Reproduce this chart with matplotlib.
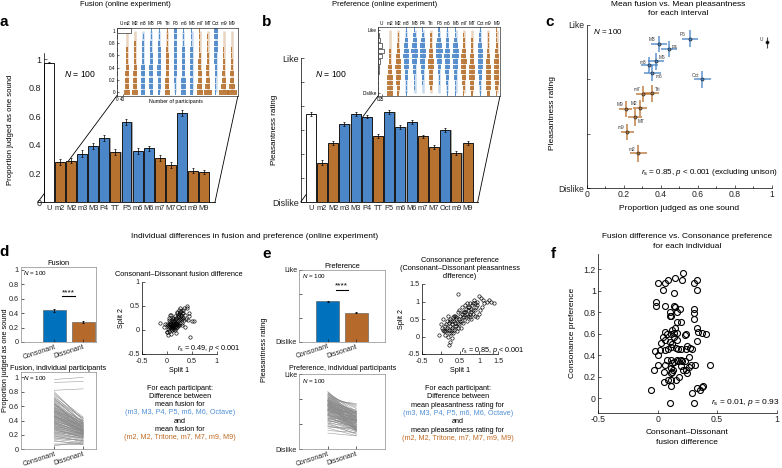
import numpy as np
import matplotlib
matplotlib.use('Agg')
import matplotlib.pyplot as plt
from matplotlib.patches import ConnectionPatch
from matplotlib.ticker import FormatStrFormatter
from matplotlib.transforms import blended_transform_factory

plt.rcParams['font.family'] = ['Liberation Sans', 'DejaVu Sans']
plt.rcParams['mathtext.fontset'] = 'custom'
plt.rcParams['mathtext.rm'] = 'Liberation Sans'
plt.rcParams['mathtext.it'] = 'Liberation Sans:italic'
plt.rcParams['axes.linewidth'] = 0.5

# ---- data -------------------------------------------------------------
intervals = ['U', 'm2', 'M2', 'm3', 'M3', 'P4', 'TT', 'P5', 'm6', 'M6', 'm7', 'M7', 'Oct', 'm9', 'M9']
short_names = ['U', 'm2', 'M2', 'm3', 'M3', 'P4', 'Tri', 'P5', 'm6', 'M6', 'm7', 'M7', 'Oct', 'm9', 'M9']
kind = ['U', 'D', 'D', 'C', 'C', 'C', 'D', 'C', 'C', 'C', 'D', 'D', 'C', 'D', 'D']

fusion_mean = [0.975, 0.279, 0.288, 0.339, 0.391, 0.445, 0.351, 0.559, 0.355, 0.375, 0.306, 0.261, 0.625, 0.220, 0.211]
fusion_sem = [0.005, 0.022, 0.018, 0.022, 0.020, 0.021, 0.020, 0.022, 0.022, 0.020, 0.020, 0.020, 0.021, 0.015, 0.015]
fusion_ci = [0.01, 0.045, 0.040, 0.045, 0.045, 0.045, 0.042, 0.045, 0.045, 0.042, 0.042, 0.040, 0.045, 0.035, 0.035]

# pleasantness on a 1 (Dislike) .. 4 (Like) scale
pleas_mean = [2.84, 1.82, 2.235, 2.63, 2.825, 2.78, 2.37, 2.875, 2.56, 2.665, 2.365, 2.15, 2.50, 2.015, 2.23]
pleas_sem = [0.04, 0.05, 0.04, 0.04, 0.04, 0.04, 0.04, 0.04, 0.04, 0.04, 0.04, 0.04, 0.05, 0.04, 0.04]
pleas_ci = [0.08, 0.08, 0.075, 0.075, 0.075, 0.075, 0.075, 0.075, 0.075, 0.075, 0.075, 0.075, 0.08, 0.075, 0.075]

# inset histograms (participants per response level)
fus_levels = [0.0, 0.1, 0.2, 0.3, 0.4, 0.5, 0.6, 0.7, 0.8, 0.9, 1.0]
fus_u_counts = [0, 0, 0, 0, 1, 1, 1, 0, 1, 3, 93]
fus_counts = [
    [22, 16, 14, 12, 10, 8, 7, 5, 3, 2, 1],
    [21, 16, 14, 12, 10, 8, 7, 5, 4, 2, 1],
    [15, 14, 14, 13, 11, 9, 8, 6, 5, 3, 2],
    [11, 12, 13, 13, 12, 10, 9, 7, 6, 4, 3],
    [8, 10, 11, 12, 12, 11, 10, 9, 8, 5, 4],
    [15, 14, 14, 12, 11, 9, 8, 7, 5, 3, 2],
    [4, 6, 7, 8, 10, 11, 11, 12, 12, 10, 9],
    [14, 14, 14, 12, 11, 10, 8, 7, 5, 3, 2],
    [12, 13, 13, 13, 12, 10, 9, 7, 5, 4, 2],
    [20, 16, 14, 13, 10, 8, 7, 5, 4, 2, 1],
    [26, 17, 14, 12, 9, 7, 6, 4, 2, 2, 1],
    [3, 4, 5, 6, 8, 10, 11, 12, 13, 13, 15],
    [32, 18, 14, 11, 8, 6, 4, 3, 2, 1, 1],
    [33, 18, 14, 11, 8, 5, 4, 3, 2, 1, 1],
]
pl_levels = [1.0, 1.25, 1.5, 1.75, 2.0, 2.25, 2.5, 2.75, 3.0, 3.25, 3.5, 3.75, 4.0]
pl_u_counts = [0, 0, 1, 2, 3, 6, 10, 20, 28, 18, 8, 3, 1]
pl_counts = [
    [14, 16, 15, 14, 12, 9, 7, 5, 3, 2, 2, 1, 0],
    [4, 7, 10, 12, 13, 14, 12, 10, 7, 5, 3, 2, 1],
    [1, 2, 4, 6, 9, 12, 14, 15, 14, 10, 7, 4, 2],
    [0, 1, 2, 4, 6, 9, 12, 15, 17, 14, 10, 6, 4],
    [0, 1, 2, 5, 7, 10, 13, 16, 16, 13, 9, 5, 3],
    [2, 5, 8, 10, 12, 14, 14, 12, 9, 6, 4, 3, 1],
    [0, 1, 2, 3, 5, 8, 12, 15, 17, 16, 11, 6, 4],
    [1, 3, 5, 7, 10, 12, 14, 15, 13, 9, 6, 3, 2],
    [1, 2, 4, 6, 8, 11, 14, 16, 15, 11, 7, 3, 2],
    [3, 5, 8, 10, 12, 13, 14, 12, 9, 6, 4, 3, 1],
    [5, 8, 11, 13, 14, 13, 11, 9, 7, 4, 3, 1, 1],
    [2, 3, 6, 8, 10, 12, 13, 13, 12, 9, 6, 4, 2],
    [8, 11, 13, 14, 14, 12, 10, 7, 5, 3, 2, 1, 0],
    [4, 7, 10, 12, 14, 13, 12, 10, 7, 5, 3, 2, 1],
]

groups = ['Consonant', 'Dissonant']
group_fusion = [0.44, 0.275]
group_fusion_err = [0.022, 0.016]
group_pleas = [2.69, 2.22]
group_pleas_err = [0.03, 0.03]

# per participant: (fusion difference, consonance preference)
indiv = [
    (-0.054, 0.077), (0.103, -0.046), (0.309, -0.046), (0.289, 0.046), (0.331, 0.093), (0.36, 0.077), (0.38, 0.118), (0.109, 0.115), (0.086, 0.17), (0.114, 0.17),
    (0.151, 0.17), (0.051, 0.149), (-0.029, 0.263), (0.0, 0.31), (0.051, 0.241), (0.109, 0.279), (0.123, 0.248), (0.18, 0.20), (0.217, 0.263), (0.251, 0.232),
    (0.24, 0.263), (0.28, 0.31), (0.26, 0.294), (0.314, 0.31), (0.437, 0.31), (0.08, 0.356), (0.109, 0.356), (0.137, 0.34), (0.171, 0.35), (0.194, 0.356),
    (0.209, 0.347), (0.16, 0.356), (0.123, 0.325), (0.266, 0.381), (0.0, 0.402), (0.023, 0.449), (0.06, 0.449), (0.089, 0.455), (0.109, 0.48), (0.151, 0.464),
    (0.171, 0.455), (0.2, 0.455), (0.237, 0.455), (0.289, 0.455), (0.251, 0.489), (0.271, 0.47), (0.031, 0.511), (0.06, 0.542), (0.103, 0.526), (0.123, 0.505),
    (0.166, 0.542), (0.137, 0.567), (0.046, 0.573), (0.08, 0.598), (0.109, 0.598), (0.066, 0.619), (0.137, 0.604), (0.16, 0.604), (0.237, 0.598), (0.337, 0.619),
    (0.371, 0.604), (0.403, 0.598), (0.33, 0.65), (0.143, 0.656), (0.123, 0.635), (0.16, 0.712), (0.194, 0.712), (0.309, 0.734), (0.103, 0.765), (0.114, 0.765),
    (0.103, 0.805), (0.064, 0.861), (0.137, 0.861), (0.146, 0.845), (0.186, 0.83), (0.166, 0.805), (0.306, 0.827), (0.309, 0.796), (-0.011, 0.898), (-0.011, 0.861),
    (0.0, 1.07), (0.064, 1.07), (0.084, 1.094), (0.145, 1.116), (0.215, 1.163), (0.207, 1.094), (0.302, 1.07), (0.333, 1.094), (0.042, 1.001), (0.137, 0.977),
    (0.328, 1.001), (0.333, 0.533), (0.23, 0.59), (0.37, 0.1), (0.13, 0.26), (0.11, 0.23), (0.2, 0.3), (0.23, 0.35), (-0.02, 0.44), (0.06, 0.31),
]
# mean fusion for consonant intervals, per participant (same order)
fus_cons = [
    0.05, 0.35, 0.62, 0.48, 0.55, 0.71, 0.66, 0.28, 0.19, 0.42,
    0.38, 0.12, 0.97, 0.22, 0.31, 0.45, 0.52, 0.58, 0.44, 0.63,
    0.47, 0.51, 0.69, 0.76, 0.65, 0.25, 0.33, 0.40, 0.54, 0.46,
    0.57, 0.36, 0.29, 0.61, 0.08, 0.15, 0.21, 0.27, 0.39, 0.50,
    0.43, 0.55, 0.59, 0.72, 0.49, 0.53, 0.11, 0.18, 0.30, 0.37,
    0.41, 0.34, 0.14, 0.23, 0.31, 0.26, 0.45, 0.48, 0.56, 0.67,
    0.74, 0.80, 0.60, 0.35, 0.32, 0.44, 0.51, 0.64, 0.29, 0.36,
    0.27, 0.20, 0.39, 0.42, 0.47, 0.38, 0.58, 0.62, 0.93, 0.06,
    0.17, 0.24, 0.30, 0.46, 0.53, 0.50, 0.68, 0.70, 0.16, 0.37,
    0.57, 0.63, 0.52, 0.78, 0.40, 0.33, 0.45, 0.54, 0.82, 0.22,
]
# mean pleasantness for consonant intervals, per participant (same order)
pl_cons = [
    1.75, 2.10, 2.45, 1.90, 2.60, 2.25, 2.95, 1.65, 2.35, 2.05,
    2.50, 2.20, 2.70, 1.95, 2.40, 2.85, 2.15, 2.60, 3.05, 2.30,
    2.55, 2.80, 2.00, 2.65, 2.45, 2.90, 2.25, 2.75, 2.10, 2.60,
    2.35, 3.10, 2.50, 2.70, 2.85, 2.20, 2.95, 2.65, 2.40, 3.15,
    2.55, 2.75, 2.05, 2.90, 2.60, 2.30, 2.80, 3.00, 2.45, 2.70,
    2.85, 2.50, 3.20, 2.65, 2.95, 2.35, 2.75, 3.05, 2.55, 2.90,
    2.60, 3.00, 2.80, 2.45, 3.10, 2.70, 2.95, 3.25, 2.55, 2.85,
    2.90, 3.05, 2.75, 3.20, 2.60, 2.95, 3.10, 2.80, 3.30, 2.70,
    2.95, 3.15, 2.80, 3.25, 3.05, 2.90, 3.30, 2.85, 3.00, 2.75,
    3.20, 2.65, 2.40, 1.90, 2.15, 2.35, 2.55, 2.25, 2.80, 1.85,
]

# split-half reliability (split 1, split 2)
fus_split = [
    (0.05, 0.08), (0.10, 0.05), (0.12, 0.15), (0.20, 0.20), (0.15, 0.10), (0.08, 0.02), (0.00, -0.05), (0.02, 0.10), (0.18, 0.25), (0.22, 0.30),
    (0.25, 0.20), (0.30, 0.35), (0.28, 0.40), (0.10, 0.00), (0.06, 0.12), (0.14, 0.18), (0.16, 0.05), (0.20, 0.12), (0.24, 0.28), (0.27, 0.38),
    (0.33, 0.42), (0.37, 0.30), (0.41, 0.45), (0.45, 0.35), (0.50, 0.18), (0.43, 0.20), (0.55, 0.18), (-0.13, 0.14), (-0.03, 0.12), (0.07, 0.30),
    (0.27, 0.46), (0.47, -0.14), (0.12, 0.22), (0.04, -0.02), (0.09, 0.08), (0.19, 0.15), (0.23, 0.10), (0.13, 0.25), (0.11, 0.00), (0.17, 0.22),
    (0.21, 0.05), (0.29, 0.25), (0.31, 0.15), (0.35, 0.45), (0.02, 0.02), (0.06, 0.18), (0.08, -0.08), (0.10, 0.08), (0.14, 0.10), (0.16, 0.28),
    (0.18, 0.15), (0.20, 0.35), (0.26, 0.22), (0.30, 0.10), (0.12, 0.05), (0.05, 0.20), (0.00, 0.12), (-0.05, 0.07), (0.03, -0.10), (0.07, 0.15),
    (0.11, 0.04), (0.15, 0.02), (0.19, 0.12), (0.23, 0.18), (0.25, 0.32), (0.32, 0.35), (0.38, 0.22), (0.40, 0.50), (0.22, 0.08), (0.28, 0.28),
    (0.09, 0.30), (0.13, 0.18), (0.17, 0.00), (0.21, 0.12), (0.01, -0.05), (0.04, 0.25), (0.36, 0.05), (0.44, 0.28), (0.34, 0.20), (0.24, 0.42),
    (0.14, 0.06), (0.06, 0.10), (0.10, 0.20), (0.16, 0.14), (0.20, 0.38), (0.26, 0.15), (0.08, 0.12), (0.12, 0.08), (0.18, -0.06), (0.30, 0.22),
    (0.22, 0.26), (0.02, 0.06), (0.15, 0.12), (0.11, 0.10), (0.07, 0.06), (0.25, 0.10), (0.33, 0.24), (0.29, 0.30), (0.19, 0.04), (0.05, 0.12),
]
pl_split = [
    (0.00, 0.35), (0.05, 0.20), (0.10, 0.15), (0.15, 0.25), (0.20, 0.40), (0.25, 0.30), (0.30, 0.45), (0.35, 0.20), (0.40, 0.55), (0.45, 0.40),
    (0.50, 0.60), (0.55, 0.45), (0.60, 0.70), (0.65, 0.55), (0.70, 0.85), (0.75, 0.65), (0.80, 0.80), (0.85, 0.95), (0.90, 0.75), (0.95, 1.00),
    (1.00, 1.15), (1.05, 1.10), (1.10, 1.05), (1.20, 1.00), (1.30, 1.00), (1.40, 0.95), (1.60, 1.30), (0.45, 1.22), (0.25, -0.15), (0.20, -0.25),
    (0.30, -0.05), (0.10, 0.30), (0.15, 0.45), (0.20, 0.10), (0.25, 0.50), (0.30, 0.25), (0.35, 0.60), (0.40, 0.30), (0.45, 0.70), (0.50, 0.45),
    (0.55, 0.85), (0.60, 0.55), (0.65, 0.80), (0.70, 0.60), (0.75, 0.95), (0.80, 0.70), (0.85, 0.75), (0.90, 0.95), (0.95, 0.55), (1.00, 0.65),
    (0.05, 0.50), (0.12, 0.05), (0.18, 0.60), (0.22, 0.20), (0.28, 0.35), (0.32, 0.10), (0.38, 0.40), (0.42, 0.15), (0.48, 0.50), (0.52, 0.25),
    (0.58, 0.40), (0.62, 0.90), (0.68, 0.45), (0.72, 0.75), (0.78, 0.50), (0.82, 0.90), (0.88, 0.60), (0.92, 0.85), (1.02, 0.75), (1.12, 0.95),
    (0.08, 0.15), (0.14, 0.35), (0.26, 0.10), (0.34, 0.45), (0.44, 0.25), (0.54, 0.65), (0.64, 0.70), (0.74, 0.85), (0.84, 0.65), (0.94, 0.90),
    (-0.05, 0.05), (0.03, 0.25), (0.17, 0.20), (0.23, 0.45), (0.33, 0.55), (0.37, 0.30), (0.47, 0.35), (0.57, 0.55), (0.67, 0.95), (0.77, 0.55),
    (0.18, 0.00), (0.28, 0.20), (0.38, 0.60), (0.48, 0.75), (0.58, 0.70), (0.68, 0.65), (0.86, 1.05), (1.08, 0.85), (1.25, 1.05), (0.40, 0.50),
]

# ---- style ------------------------------------------------------------
BLUE, BROWN = '#4a86c8', '#b8722f'
BLUE_D, BROWN_D = '#0072bd', '#b56a2c'
TXT_BLUE, TXT_BROWN = '#4f8fd6', '#c06a22'
col_of = {'U': 'white', 'C': BLUE, 'D': BROWN}

W, H = 782, 468
fig = plt.figure(figsize=(W / 100, H / 100), dpi=100)


def box(l, t, r, b):
    return [l / W, 1 - b / H, (r - l) / W, (b - t) / H]


def ftext(x, y, s, **kw):
    kw.setdefault('ha', 'center')
    kw.setdefault('va', 'center')
    kw.setdefault('fontsize', 5.5)
    fig.text(x / W, 1 - y / H, s, **kw)


def style(ax, spines=('left', 'bottom'), size=6.5, spine_col='k'):
    for s in ax.spines:
        ax.spines[s].set_visible(s in spines)
        ax.spines[s].set_linewidth(0.5)
        ax.spines[s].set_color(spine_col)
    ax.tick_params(direction='in', length=2, width=0.5, labelsize=size, pad=1.5, colors='#222222')


def main_bars(ax, vals, errs):
    x = np.arange(1, len(vals) + 1)
    cols = [col_of[k] for k in kind]
    base = ax.get_ylim()[0]
    h = np.array(vals) - base
    ax.bar(x + 0.12, h, bottom=base, width=0.9, color='#a8a8a8', zorder=1)
    ax.bar(x, h, bottom=base, width=0.9, color=cols, edgecolor='#1a1a1a', lw=0.7, zorder=2)
    ax.errorbar(x, vals, yerr=errs, fmt='none', ecolor='k', elinewidth=0.5, capsize=1, capthick=0.5, zorder=3)
    ax.set_xticks(x)
    ax.set_xticklabels(intervals)
    return x


def inset_hist(ax, levels, counts_list, u_counts, bar_h, scale, u_scale, first, step, u_pos):
    levels = np.asarray(levels)
    centers = first + step * np.arange(len(counts_list))
    for cx, cnt, k in zip(centers, counts_list, kind[1:]):
        cnt = np.asarray(cnt, float)
        col = col_of[k]
        ax.vlines(cx, levels[0], levels[-1], color=col, lw=1.8, alpha=0.3, zorder=0)
        ax.barh(levels, cnt * scale, left=cx - cnt * scale / 2, height=bar_h, color=col,
                alpha=0.9, lw=0, zorder=1)
    ax.barh(levels, np.asarray(u_counts) * u_scale, left=0, height=bar_h, facecolor='white',
            edgecolor='k', lw=0.4, zorder=2)
    tr = blended_transform_factory(ax.transData, ax.transAxes)
    for cx, lab in zip(np.r_[u_pos, centers], short_names):
        ax.text(cx, 1.02, lab, transform=tr, ha='center', va='bottom', fontsize=3.4)
    for s in ax.spines.values():
        s.set_linewidth(0.5)
        s.set_color('#333333')
    ax.tick_params(direction='in', length=1.5, width=0.4, labelsize=3.4, pad=1)


def connect(main, ins, x0, x1, y0):
    for xa, xb in ((0, x0), (1, x1)):
        con = ConnectionPatch(xyA=(xa, 0), coordsA=ins.transAxes, xyB=(xb, y0), coordsB=main.transData,
                              color='k', lw=0.6, zorder=0.5)
        main.add_artist(con)
        con.set_clip_on(False)
    main.plot([x0, x1], [y0, y0], color='k', lw=0.6, clip_on=False, zorder=0.5)


# ---- panel a ------------------------------------------------------------
ax_a = fig.add_axes(box(43.5, 53.3, 215, 202))
ax_a.set_ylim(0, 1.04)
xa = main_bars(ax_a, fusion_mean, fusion_sem)
ax_a.set_xlim(0.5, 16)
ax_a.set_yticks(np.arange(0, 1.01, 0.2))
ax_a.yaxis.set_major_formatter(FormatStrFormatter('%g'))
style(ax_a, spines=('left',))
ax_a.tick_params(axis='x', length=0, labelsize=5.3, pad=2.5)

ins_a = fig.add_axes(box(117, 27.7, 238, 95.5))
inset_hist(ins_a, fus_levels, fus_counts, fus_u_counts, 0.08, 2.0, 1.0, 67, 54, 27)
ins_a.set_xlim(0, 810)
ins_a.set_ylim(-0.05, 1.05)
ins_a.set_yticks(np.arange(0, 1.01, 0.2))
ins_a.yaxis.set_major_formatter(FormatStrFormatter('%g'))
ins_a.set_xticks([0, 40])
connect(ax_a, ins_a, 0, 16, 0)

ftext(125, 5, 'Fusion (online experiment)')
ftext(4, 22, 'a', fontsize=11, fontweight='bold')
ftext(64, 74, r'$N$ = 100', fontsize=6.2, ha='left')
ftext(11, 130, 'Proportion judged as one sound', rotation=90, fontsize=5.6)
ftext(176, 101, 'Number of participants', fontsize=3.8)

# ---- panel b ------------------------------------------------------------
ax_b = fig.add_axes(box(300.7, 58, 477.7, 202))
ax_b.set_ylim(1, 4)
main_bars(ax_b, pleas_mean, pleas_sem)
ax_b.set_xlim(0.1, 15.9)
ax_b.set_yticks(np.arange(1, 4.01, 0.5))
ax_b.set_yticklabels(['Dislike', '', '', '', '', '', 'Like'])
style(ax_b, spines=('left',))
ax_b.tick_params(axis='x', length=0, labelsize=5.3, pad=2.5)

ins_b = fig.add_axes(box(378, 27, 500, 96))
inset_hist(ins_b, pl_levels, pl_counts, pl_u_counts, 0.2, 2.8, 1.5, 84, 57.4, 26)
ins_b.set_xlim(0, 854)
ins_b.set_ylim(0.88, 4.12)
ins_b.set_yticks([1, 4])
ins_b.set_yticklabels(['Dislike', 'Like'])
ins_b.set_xticks([0, 25])
connect(ax_b, ins_b, 0.1, 15.9, 1)

ftext(385, 5, 'Preference (online experiment)')
ftext(267, 22, 'b', fontsize=11, fontweight='bold')
ftext(315, 74, r'$N$ = 100', fontsize=6.2, ha='left')
ftext(275, 130, 'Pleasantness rating', rotation=90, fontsize=5.8)

# ---- panel c ------------------------------------------------------------
ax_c = fig.add_axes(box(586.7, 25, 771.7, 188))
label_off = {'U': (-3, 2, 'right'), 'P5': (-3, 3, 'right'), 'M3': (-3, 3, 'right'), 'P4': (2, 1, 'left'),
             'M6': (2, 3, 'left'), 'm3': (-2, 2, 'right'), 'm6': (2, -3, 'left'), 'Oct': (-2, 3, 'right'),
             'm7': (-2, 3, 'right'), 'Tri': (2, 3, 'left'), 'M9': (-2, 3, 'right'), 'M2': (-2, 3, 'right'),
             'M7': (2, -3, 'left'), 'm9': (-2, 3, 'right'), 'm2': (-2, 3, 'right')}
for fx, py, ex, ey, k, lab in zip(fusion_mean, pleas_mean, fusion_ci, pleas_ci, kind, short_names):
    col = {'U': 'k', 'C': BLUE, 'D': BROWN}[k]
    if k == 'U':
        ex, ey = 0.005, 0.05
    ax_c.errorbar(fx, py, xerr=ex, yerr=ey, fmt='none', ecolor=col, elinewidth=1.4 if k != 'U' else 0.8,
                  alpha=0.7, zorder=2)
    ax_c.plot(fx, py, 'o', ms=2.2, mfc=col, mec='#2a2a2a', mew=0.5, zorder=3)
    dx, dy, ha = label_off[lab]
    ax_c.annotate(lab, (fx, py), xytext=(dx, dy), textcoords='offset points', ha=ha, va='center',
                  fontsize=3.4, color='#333333')
ax_c.set_xlim(0, 1)
ax_c.set_ylim(1.5, 3.0)
ax_c.set_xticks(np.arange(0, 1.01, 0.2))
ax_c.set_xticks(np.arange(0.1, 1.0, 0.2), minor=True)
ax_c.xaxis.set_major_formatter(FormatStrFormatter('%g'))
ax_c.set_yticks([1.5, 2.0, 2.5, 3.0])
ax_c.set_yticklabels(['Dislike', '', '', 'Like'])
style(ax_c, size=6.2)
ax_c.tick_params(which='minor', direction='in', length=1.5, width=0.5)

ftext(678, 4.5, 'Mean fusion vs. Mean pleasantness', fontsize=6)
ftext(678, 13.5, 'for each interval', fontsize=6)
ftext(550, 22, 'c', fontsize=11, fontweight='bold')
ftext(593, 32, r'$N$ = 100', fontsize=5.8, ha='left')
ftext(778, 173, r'$r_\mathrm{s}$ = 0.85, $p$ < 0.001 (excluding unison)', ha='right', fontsize=5.8)
ftext(552, 113, 'Pleasantness rating', rotation=90, fontsize=6)
ftext(679, 208, 'Proportion judged as one sound', fontsize=6)

# ---- section heading ------------------------------------------------------
ftext(255, 236, 'Individual differences in fusion and preference (online experiment)', fontsize=6)

indiv = np.array(indiv)
fus_cons = np.array(fus_cons)
pl_cons = np.array(pl_cons)
fus_diss = np.clip(fus_cons - indiv[:, 0], 0, 1)
pl_diss = pl_cons - indiv[:, 1]


def group_bars(ax, vals, errs, xlim, sig_x, sig_y):
    base = ax.get_ylim()[0]
    ax.bar([1, 2], np.array(vals) - base, bottom=base, width=0.8,
           color=[BLUE_D, BROWN_D], edgecolor='#555555', lw=0.4)
    ax.errorbar([1, 2], vals, yerr=errs, fmt='none', ecolor='k', elinewidth=0.6, capsize=1, capthick=0.6)
    ax.plot(sig_x, [sig_y, sig_y], color='k', lw=0.8)
    ax.text(np.mean(sig_x), sig_y, '****', ha='center', va='bottom', fontsize=6)
    ax.set_xlim(*xlim)


def group_axes(ax, xlim, title, pad=1.5):
    ax.set_xlim(*xlim)
    ax.set_xticks([1, 2])
    ax.set_xticklabels(groups, rotation=18, ha='right', rotation_mode='anchor')
    style(ax, spines=('left', 'bottom', 'top', 'right'), size=5.2, spine_col='#8a8a8a')
    ax.tick_params(axis='x', labelsize=5, pad=1)
    ax.set_title(title, fontsize=5.3, pad=pad)
    ax.text(0.03, 0.97, r'$N$ = 100', transform=ax.transAxes, ha='left', va='top', fontsize=4.5)


def split_axes(ax, pts, lim, ticks, title):
    pts = np.array(pts)
    ax.plot(pts[:, 0], pts[:, 1], 'o', ms=2.4, mfc='none', mec='k', mew=0.45)
    ax.set_xlim(*lim)
    ax.set_ylim(*lim)
    ax.set_xticks(ticks)
    ax.set_yticks(ticks)
    ax.xaxis.set_major_formatter(FormatStrFormatter('%g'))
    ax.yaxis.set_major_formatter(FormatStrFormatter('%g'))
    style(ax, size=5.2)
    ax.tick_params(axis='x', pad=2.8)
    ax.set_xlabel('Split 1', fontsize=5.2, labelpad=1.5)
    ax.set_ylabel('Split 2', fontsize=5.2, labelpad=1.5)
    ax.set_title(title, fontsize=5.3, pad=4)


def text_block(cx, y0, measure):
    lines = [('For each participant:', 'k'), ('Difference between', 'k'), ('mean %s for' % measure, 'k'),
             ('(m3, M3, P4, P5, m6, M6, Octave)', TXT_BLUE), ('and', 'k'), ('mean %s for' % measure, 'k'),
             ('(m2, M2, Tritone, m7, M7, m9, M9)', TXT_BROWN)]
    for i, (s, c) in enumerate(lines):
        ftext(cx, y0 + 8.3 * i, s, color=c, fontsize=5.2)


# ---- panel d ------------------------------------------------------------
d_xlim = (-0.15, 2.44)
ax_d1 = fig.add_axes(box(21, 266.7, 96, 342))
ax_d1.set_ylim(0, 1.04)
group_bars(ax_d1, group_fusion, group_fusion_err, d_xlim, [1.25, 1.71], 0.63)
ax_d1.set_yticks(np.arange(0, 1.01, 0.2))
ax_d1.yaxis.set_major_formatter(FormatStrFormatter('%g'))
group_axes(ax_d1, d_xlim, 'Fusion')

ax_d2 = fig.add_axes(box(21, 371.7, 96, 449.3))
for c, d in zip(fus_cons, fus_diss):
    ax_d2.plot([1, 2], [c, d], color='#8c8c8c', lw=0.35)
ax_d2.set_ylim(0, 1.078)
ax_d2.set_yticks(np.arange(0, 1.01, 0.2))
ax_d2.yaxis.set_major_formatter(FormatStrFormatter('%g'))
group_axes(ax_d2, d_xlim, 'Fusion, individual participants')

ax_d3 = fig.add_axes(box(141.7, 281.7, 216.7, 354))
split_axes(ax_d3, fus_split, (-0.5, 1), [-0.5, 0, 0.5, 1], 'Consonant\u2013Dissonant fusion difference')
ftext(241, 349, r'$r_\mathrm{s}$ = 0.49, $p$ < 0.001', ha='right', fontsize=5.2)
text_block(180, 388, 'fusion')

ftext(4, 252, 'd', fontsize=11, fontweight='bold')
ftext(6, 360, 'Proportion judged as one sound', rotation=90, fontsize=5.3)

# ---- panel e ------------------------------------------------------------
e_xlim = (0, 3)
ax_e1 = fig.add_axes(box(299.3, 270, 385, 341.7))
ax_e1.set_ylim(1, 4)
group_bars(ax_e1, group_pleas, group_pleas_err, e_xlim, [1.28, 1.70], 3.17)
ax_e1.set_yticks([1, 2, 3, 4])
ax_e1.set_yticklabels(['Dislike', '', '', 'Like'])
group_axes(ax_e1, e_xlim, 'Preference')

ax_e2 = fig.add_axes(box(299.3, 374.3, 385, 449.3))
for c, d in zip(pl_cons, pl_diss):
    ax_e2.plot([1, 2], [c, d], color='#8c8c8c', lw=0.35)
ax_e2.set_ylim(1, 4)
ax_e2.set_yticks([1, 2, 3, 4])
ax_e2.set_yticklabels(['Dislike', '', '', 'Like'])
group_axes(ax_e2, e_xlim, 'Preference, individual participants', pad=3.2)
ax_e2.title.set_fontsize(5.1)

ax_e3 = fig.add_axes(box(421.7, 284, 498.3, 354))
split_axes(ax_e3, pl_split, (-0.5, 1.5), [-0.5, 0, 0.5, 1, 1.5],
           'Consonance preference\n(Consonant\u2013Dissonant pleasantness\ndifference)')
ftext(525, 350, r'$r_\mathrm{s}$ = 0.85, $p$ < 0.001', ha='right', fontsize=5.2)
text_block(458, 388.5, 'pleasantness rating')

ftext(267, 254, 'e', fontsize=11, fontweight='bold')
ftext(265, 350, 'Pleasantness rating', rotation=90, fontsize=5.3)

# ---- panel f ------------------------------------------------------------
ax_f = fig.add_axes(box(598, 254, 776.7, 413))
ax_f.plot(indiv[:, 0], indiv[:, 1], 'o', ms=4.3, mfc='none', mec='k', mew=0.8)
ax_f.set_xlim(-0.5, 1)
ax_f.set_ylim(-0.137, 1.34)
ax_f.set_xticks([-0.5, 0, 0.5, 1])
ax_f.set_yticks(np.arange(0, 1.21, 0.2))
ax_f.xaxis.set_major_formatter(FormatStrFormatter('%g'))
ax_f.yaxis.set_major_formatter(FormatStrFormatter('%g'))
style(ax_f, size=6.3)

ftext(687, 237, 'Fusion difference vs. Consonance preference', fontsize=6)
ftext(687, 246.5, 'for each individual', fontsize=6)
ftext(553, 254, 'f', fontsize=11, fontweight='bold')
ftext(687, 432, 'Consonant\u2013Dissonant', fontsize=6)
ftext(687, 442, 'fusion difference', fontsize=6)
ftext(572, 333, 'Consonance preference', rotation=90, fontsize=6)
ftext(780, 402, r'$r_\mathrm{s}$ = 0.01, $p$ = 0.93', ha='right', fontsize=6)

fig.savefig('out.png', dpi=100)
